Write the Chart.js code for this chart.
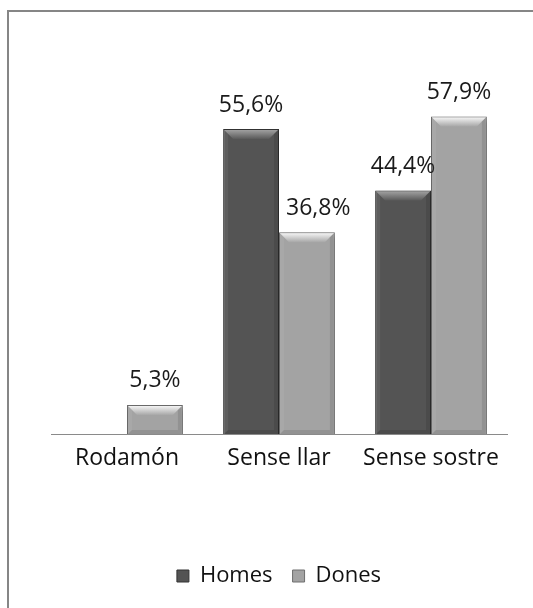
<!DOCTYPE html>
<html>
<head>
<meta charset="utf-8">
<script src="https://cdn.jsdelivr.net/npm/chart.js@4"></script>
<style>
  html, body { margin: 0; padding: 0; background: #fff; overflow: hidden; }
</style>
</head>
<body>
<canvas id="chart" width="533" height="608"></canvas>
<script>
const categories = ['Rodamón', 'Sense llar', 'Sense sostre'];
const homes = [0, 55.6, 44.4];
const dones = [5.3, 36.8, 57.9];
const seriesNames = ['Homes', 'Dones'];

const FONT = "'Open Sans', sans-serif";
const LABEL_SIZE = 23;

// grey frame (only top and left edges are in view)
const framePlugin = {
  id: 'frame',
  beforeDraw(chart) {
    const ctx = chart.ctx;
    ctx.save();
    ctx.fillStyle = '#868686';
    ctx.fillRect(7, 10, chart.width - 7, 2);
    ctx.fillRect(7, 10, 2, chart.height - 10);
    ctx.restore();
  }
};

// bevel look + value labels, drawn from the bar elements
const bevelPlugin = {
  id: 'bevel',
  beforeDatasetsDraw(chart) {
    const ctx = chart.ctx;
    ctx.save();
    ctx.shadowColor = 'rgba(0,0,0,0.3)';
    ctx.shadowBlur = 6;
    ctx.shadowOffsetX = 2;
    ctx.shadowOffsetY = 3;
  },
  afterDatasetsDraw(chart) {
    const ctx = chart.ctx;
    ctx.restore();
    const tops = [['#a0a0a0', '#5a5a5a'], ['#f4f4f4', '#a8a8a8']];
    chart.data.datasets.forEach((ds, di) => {
      const meta = chart.getDatasetMeta(di);
      meta.data.forEach((bar, i) => {
        const v = ds.data[i];
        if (!v) return;
        const l = bar.x - bar.width / 2 + 1, r = bar.x + bar.width / 2 - 1;
        const t = bar.y + 1, b = bar.base;
        const bv = Math.min(9, (b - t) / 2);
        let g = ctx.createLinearGradient(0, t, 0, t + bv);
        g.addColorStop(0, tops[di][0]);
        g.addColorStop(1, tops[di][1]);
        ctx.fillStyle = g;
        ctx.beginPath();
        ctx.moveTo(l, t); ctx.lineTo(r, t); ctx.lineTo(r - bv, t + bv); ctx.lineTo(l + bv, t + bv);
        ctx.closePath(); ctx.fill();
        // side and bottom bevels
        ctx.fillStyle = 'rgba(0,0,0,0.10)';
        ctx.beginPath();
        ctx.moveTo(r, t); ctx.lineTo(r, b); ctx.lineTo(r - 4, b - 4); ctx.lineTo(r - 4, t + 4);
        ctx.closePath(); ctx.fill();
        ctx.beginPath();
        ctx.moveTo(l, b); ctx.lineTo(r, b); ctx.lineTo(r - 4, b - 4); ctx.lineTo(l + 4, b - 4);
        ctx.closePath(); ctx.fill();
        ctx.fillStyle = 'rgba(255,255,255,0.06)';
        ctx.beginPath();
        ctx.moveTo(l, t); ctx.lineTo(l, b); ctx.lineTo(l + 4, b - 4); ctx.lineTo(l + 4, t + 4);
        ctx.closePath(); ctx.fill();

        // value label, nudged right when it would sit on a taller neighbour bar
        const txt = v.toFixed(1).replace('.', ',') + '%';
        ctx.font = LABEL_SIZE + 'px ' + FONT;
        const w = ctx.measureText(txt).width;
        let x = bar.x;
        const ly = bar.y - 24;
        if (di > 0) {
          const prev = chart.getDatasetMeta(di - 1).data[i];
          const prevRight = prev.x + prev.width / 2;
          if (chart.data.datasets[di - 1].data[i] && prev.y < ly + LABEL_SIZE / 2 && x - w / 2 < prevRight + 7) {
            x = prevRight + 7 + w / 2;
          }
        }
        ctx.fillStyle = '#1a1a1a';
        ctx.textAlign = 'center';
        ctx.textBaseline = 'middle';
        ctx.fillText(txt, x, ly);
      });
    });
  }
};

new Chart(document.getElementById('chart'), {
  type: 'bar',
  data: {
    labels: categories,
    datasets: [
      {
        label: seriesNames[0],
        data: homes,
        backgroundColor: '#545454',
        borderColor: '#333333',
        borderWidth: 1,
        borderSkipped: 'bottom'
      },
      {
        label: seriesNames[1],
        data: dones,
        backgroundColor: '#a3a3a3',
        borderColor: '#6e6e6e',
        borderWidth: 1,
        borderSkipped: 'bottom'
      }
    ]
  },
  options: {
    responsive: false,
    animation: false,
    categoryPercentage: 0.735,
    barPercentage: 1.0,
    layout: { padding: { top: 50, left: 51, right: 26, bottom: 11 } },
    scales: {
      x: {
        grid: { display: false, drawTicks: false },
        border: { display: true, color: '#8a8a8a', width: 1 },
        ticks: { color: '#111', font: { family: FONT, size: 23 }, padding: 11 },
        afterFit: (scale) => { scale.height = 111; }
      },
      y: { display: false, min: 0, max: 70 }
    },
    plugins: {
      legend: {
        position: 'bottom',
        labels: {
          color: '#111',
          font: { family: FONT, size: 22 },
          boxWidth: 12,
          boxHeight: 12,
          padding: 20
        }
      },
      tooltip: { enabled: false }
    }
  },
  plugins: [framePlugin, bevelPlugin]
});
</script>
</body>
</html>
